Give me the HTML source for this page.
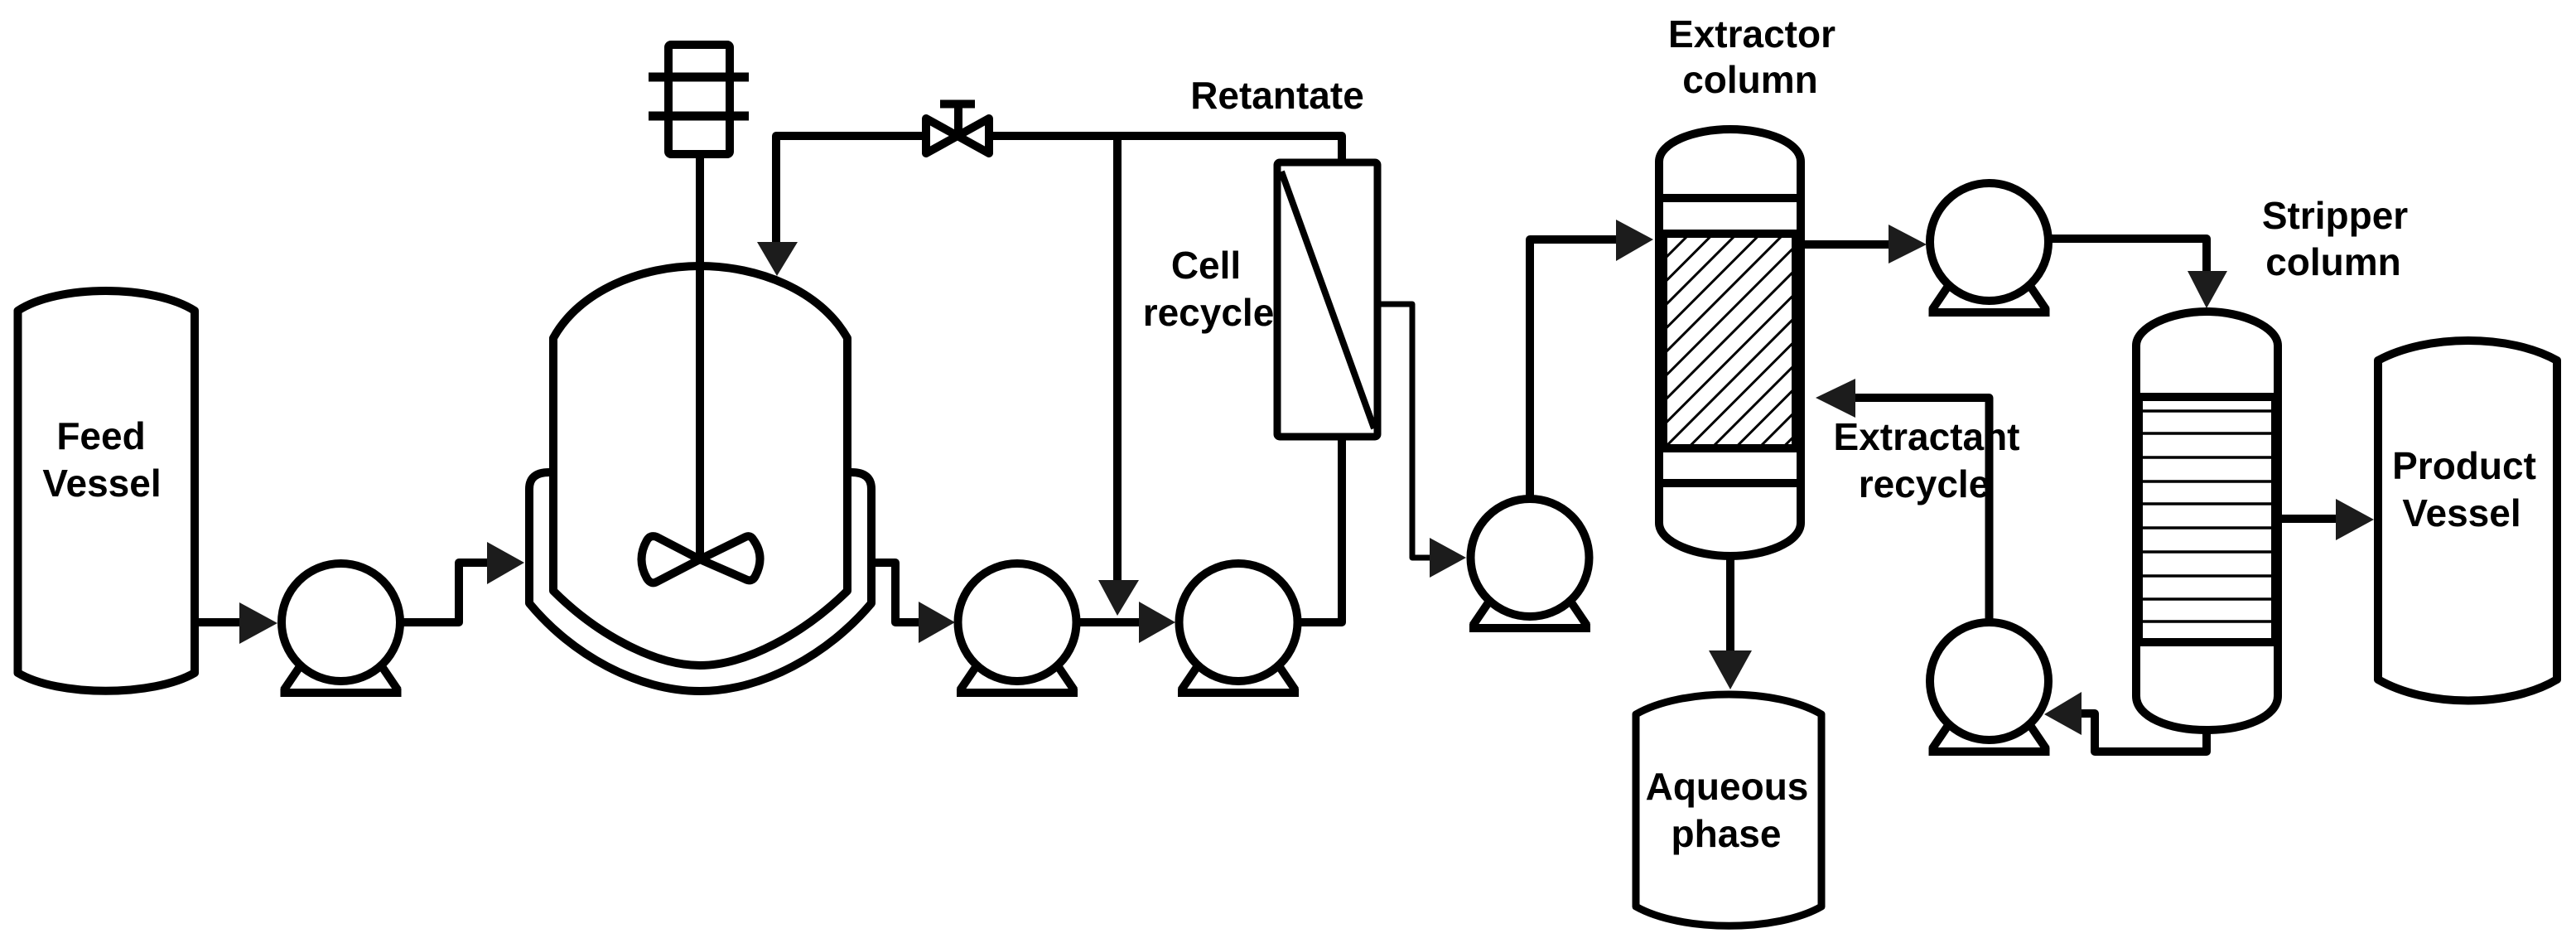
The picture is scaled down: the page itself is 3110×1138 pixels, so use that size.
<!DOCTYPE html>
<html>
<head>
<meta charset="utf-8">
<style>
html,body{margin:0;padding:0;background:#fff;width:3110px;height:1138px;overflow:hidden}
svg{display:block}
text{font-family:"Liberation Sans",Arial,sans-serif;font-weight:bold;font-size:46px;fill:#000;text-anchor:middle}
</style>
</head>
<body>
<svg width="3110" height="1138" viewBox="0 0 3110 1138" xmlns="http://www.w3.org/2000/svg">
<defs>
<pattern id="h" patternUnits="userSpaceOnUse" x="2011.5" y="282" width="28.5" height="28.5">
<path d="M-3 31.5L31.5 -3M-3 3L3 -3M25.5 31.5L31.5 25.5" stroke="#000" stroke-width="3" fill="none"/>
</pattern>
<g id="pump">
<path d="M-50 54L-69 82M50 54L69 82" fill="none" stroke="#000" stroke-width="10"/>
<path d="M-73 85H73" fill="none" stroke="#000" stroke-width="10"/>
<ellipse cx="0" cy="0" rx="71.5" ry="71" fill="#fff" stroke="#000" stroke-width="10"/>
</g>
</defs>
<g fill="none" stroke="#000" stroke-width="10" stroke-linejoin="round">
<!-- connectors -->
<path d="M235 751H300"/>
<path d="M482 751H554V679H600"/>
<path d="M1052 679H1081V751H1120"/>
<path d="M1298 751H1385"/>
<path d="M1349 164V710"/>
<path d="M937 300V164H1620V196"/>
<path d="M1620 527V751H1566"/>
<path d="M1847 602V289H1960"/>
<path d="M2174 295H2290"/>
<path d="M2472 288H2664V335"/>
<path d="M2089 671V795"/>
<path d="M2750 626H2830"/>
<path d="M2401.5 752V480H2235"/>
<path d="M2664 882V907H2529V861H2505"/>
<path d="M1663 367H1705V673H1735" stroke-width="7"/>
<!-- feed vessel -->
<path d="M21.5 375C70 343 185 343 235 375V812C185 841 70 841 21.5 812Z" fill="#fff"/>
<!-- product vessel -->
<path d="M2871 435C2930 403 3030 403 3087 435V820C3030 854 2930 854 2871 820Z" fill="#fff"/>
<!-- aqueous -->
<path d="M1975 862C2030 830 2145 830 2199 862V1094C2145 1125 2030 1125 1975 1094Z" fill="#fff" stroke-width="9"/>
<!-- jacket -->
<path d="M663 570Q639 570 639 590V728C690 790 770 834 845 834S1000 790 1052 728V590Q1052 570 1028 570"/>
<!-- reactor -->
<path d="M668 408C700 350 775 321 845 321S990 350 1023 408V713C970 765 900 803 845 803S720 765 668 713Z"/>
<!-- shaft and motor -->
<path d="M845 191V675"/>
<rect x="807" y="54" width="74" height="132" rx="3"/>
<path d="M783 93H904M783 140H904" stroke-width="11"/>
<!-- impeller -->
<path d="M845 675L793 648Q785 645 781 652Q768 675 781 698Q786 706 793 702Z"/>
<path d="M845 675L900 648Q906 645 910 652Q924 672 912 695Q908 703 900 699Z"/>
<!-- valve -->
<path d="M1118 143L1194 185V143L1118 185Z" fill="#fff"/>
<path d="M1157 164V125M1135 125.5H1177" stroke-linejoin="miter" stroke-width="10"/>
<!-- membrane module -->
<rect x="1542" y="196" width="121" height="331" rx="3" fill="#fff" stroke-width="9"/>
<path d="M1547 207L1659 517" stroke-width="8"/>
<!-- extractor column -->
<rect x="2010" y="282" width="158" height="259" fill="url(#h)" stroke="none"/>
<path d="M2003 195C2003 172 2045 156 2089 156S2174 172 2174 195V631C2174 655 2130 671 2089 671S2003 655 2003 631Z"/>
<path d="M2003 239H2174M2003 583H2174M2003 282H2174M2003 541H2174"/>
<path d="M2009 282V541M2167 282V541" stroke-width="8"/>
<!-- stripper column -->
<path d="M2579 417C2579 395 2620 376 2664 376S2750 395 2750 417V840C2750 865 2710 881 2664 881S2579 865 2579 840Z"/>
<path d="M2579 479H2750M2579 775H2750"/>
<path d="M2586 496H2745M2586 523H2745M2586 552H2745M2586 581H2745M2586 608H2745M2586 637H2745M2586 666H2745M2586 695H2745M2586 723H2745M2586 750H2745" stroke-width="3.5"/>
<path d="M2584 479V775M2745 479V775" stroke-width="6"/>
</g>
<!-- pumps -->
<use href="#pump" x="411.5" y="751"/>
<use href="#pump" x="1228" y="751"/>
<use href="#pump" x="1495" y="751"/>
<use href="#pump" x="1847" y="673"/>
<use href="#pump" x="2401.5" y="292"/>
<use href="#pump" x="2401.5" y="822"/>
<!-- arrowheads -->
<g fill="#1c1c1c" stroke="none">
<path d="M289 727L335 752L289 777Z"/>
<path d="M588 654L633 679L588 705Z"/>
<path d="M914 292H963L938 333Z"/>
<path d="M1109 726L1153 751L1109 776Z"/>
<path d="M1326 700H1375L1349 743Z"/>
<path d="M1375 726L1419 751L1375 776Z"/>
<path d="M1726 649L1770 673L1726 697Z"/>
<path d="M1951 265L1996 289L1951 315Z"/>
<path d="M2280 271L2326 295L2280 318Z"/>
<path d="M2641 327H2689L2664 372Z"/>
<path d="M2063 785H2115L2089 832Z"/>
<path d="M2820 602L2866 627L2820 652Z"/>
<path d="M2240 457L2192 480L2240 504Z"/>
<path d="M2513 835L2468 862L2513 887Z"/>
</g>
<!-- labels -->
<text x="122" y="542">Feed</text>
<text x="123" y="599">Vessel</text>
<text x="1542" y="131">Retantate</text>
<text x="1456" y="336">Cell</text>
<text x="1459" y="393">recycle</text>
<text x="2115" y="57">Extractor</text>
<text x="2113" y="112">column</text>
<text x="2819" y="276">Stripper</text>
<text x="2817" y="332">column</text>
<text x="2326" y="543">Extractant</text>
<text x="2323" y="600">recycle</text>
<text x="2975" y="578">Product</text>
<text x="2972" y="635">Vessel</text>
<text x="2085" y="965">Aqueous</text>
<text x="2084" y="1022">phase</text>
</svg>
</body>
</html>
